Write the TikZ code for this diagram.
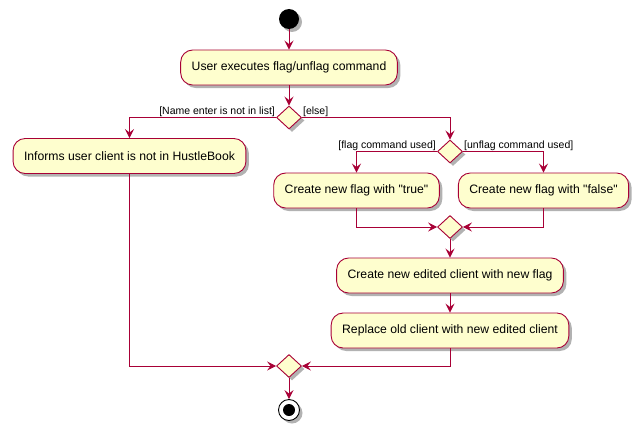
\documentclass[tikz,border=0pt]{standalone}
\usepackage{fontspec}
\setmainfont{Liberation Sans}[Ligatures=TeXOff]
\usetikzlibrary{shapes.geometric, arrows.meta, shadows}

\definecolor{umlred}{HTML}{A80036}
\definecolor{umlfill}{HTML}{FEFECE}

\begin{document}
\begin{tikzpicture}[
    x=1pt, y=-1pt,
    shade/.style={drop shadow={shadow xshift=3pt, shadow yshift=-3pt, opacity=0.3, fill=black}},
    action/.style={rectangle, rounded corners=12pt, draw=umlred, fill=umlfill, line width=0.9pt, shade, align=center, font=\fontsize{12.2}{14}\selectfont, inner xsep=11pt, minimum height=35pt},
    decision/.style={diamond, draw=umlred, fill=umlfill, line width=0.9pt, shade, inner sep=0pt, minimum width=25pt, minimum height=23pt},
    guard/.style={font=\fontsize{10.5}{12}\selectfont, inner sep=1pt},
    arrow/.style={-{Stealth[length=9pt, width=9pt, inset=3.5pt]}, draw=umlred, line width=0.9pt}
]
\useasboundingbox (0,0) rectangle (644,436);

\node[circle, fill=black, minimum size=20pt, inner sep=0pt, shade] (start) at (289, 19) {};
\node[action] (execute) at (289, 67.5) {User executes flag/unflag command};
\node[decision] (inlist) at (289, 117.5) {};

\node[action] (inform) at (129.5, 156) {Informs user client is not in HustleBook};

\node[decision] (which) at (450, 151.5) {};
\node[action] (flagtrue) at (356.5, 190.5) {Create new flag with "true"};
\node[action] (flagfalse) at (543.5, 190.5) {Create new flag with "false"};
\node[decision] (mergeflag) at (450, 227) {};

\node[action] (edited) at (450, 275.5) {Create new edited client with new flag};
\node[action] (replace) at (450, 330.5) {Replace old client with new edited client};

\node[decision] (mergeall) at (289, 366) {};
\node[circle, draw=black, fill=white, line width=0.9pt, minimum size=21pt, inner sep=0pt, shade] (stop) at (289, 410) {};
\node[circle, fill=black, minimum size=12pt, inner sep=0pt] (stopdot) at (stop) {};

% guards
\node[guard, anchor=south east] (notinlist) at (inlist.west) {[Name enter is not in list]};
\node[guard, anchor=south west] (elselbl) at (inlist.east) {[else]};
\node[guard, anchor=south east] (flaglbl) at (which.west) {[flag command used]};
\node[guard, anchor=south west] (unflaglbl) at (which.east) {[unflag command used]};

\draw[arrow] (start) -- (execute);
\draw[arrow] (execute) -- (inlist);
\draw[arrow] (inlist.west) -| (inform.north);
\draw[arrow] (inlist.east) -| (which.north);
\draw[arrow] (which.west) -| (flagtrue.north);
\draw[arrow] (which.east) -| (flagfalse.north);
\draw[arrow] (flagtrue.south) |- (mergeflag.west);
\draw[arrow] (flagfalse.south) |- (mergeflag.east);
\draw[arrow] (mergeflag) -- (edited);
\draw[arrow] (edited) -- (replace);
\draw[arrow] (inform.south) |- (mergeall.west);
\draw[arrow] (replace.south) |- (mergeall.east);
\draw[arrow] (mergeall) -- (stop);

\end{tikzpicture}
\end{document}
